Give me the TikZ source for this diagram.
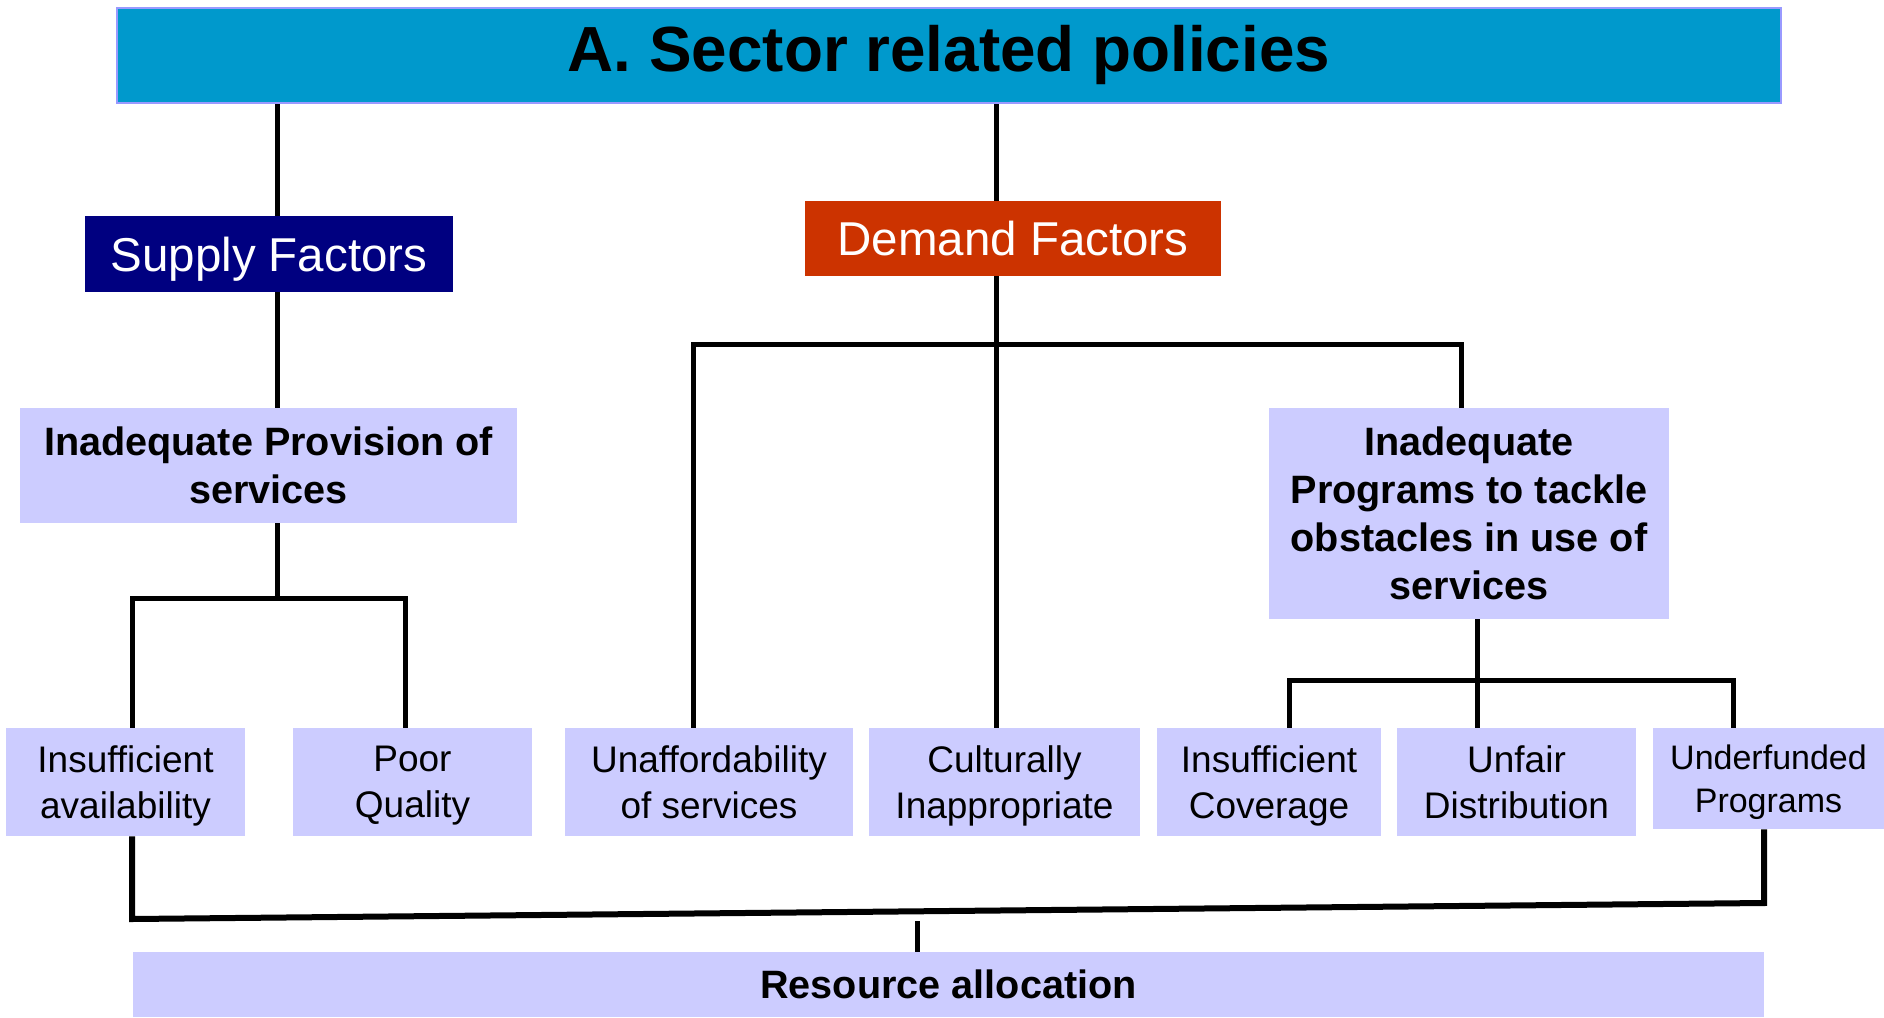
\documentclass[tikz,border=0pt]{standalone}
\usepackage{fontspec}
\setmainfont{Liberation Sans}
\definecolor{titleblue}{HTML}{0099CC}
\definecolor{titleedge}{HTML}{9999FF}
\definecolor{supplyblue}{HTML}{000080}
\definecolor{demandred}{HTML}{CC3300}
\definecolor{lilac}{HTML}{CCCCFF}
\begin{document}
\begin{tikzpicture}[x=0.5pt,y=-0.5pt,
    box/.style={fill=lilac, inner sep=0pt, align=center, text depth=0pt},
    head/.style={inner sep=0pt, text=white, text depth=0pt, font=\fontsize{23.75}{28}\selectfont},
    cause/.style={box, minimum height=54pt, font=\fontsize{18.5}{22.8}\selectfont},
    group/.style={box, font=\bfseries\fontsize{19.8}{24}\selectfont},
    link/.style={line width=2.5pt}]
    \useasboundingbox (0,0) rectangle (1884,1017);

    % Title
    \node[fill=titleblue, draw=titleedge, line width=1.2pt, inner sep=0pt,
        minimum width=832pt, minimum height=47.5pt,
        font=\bfseries\fontsize{31.9}{36}\selectfont] (title) at (949,55.5) {A. Sector related policies};

    % Factors
    \node[head, fill=supplyblue, minimum width=184pt, minimum height=38pt] (sup) at (269,254) {Supply Factors};
    \node[head, fill=demandred, minimum width=208pt, minimum height=37.5pt] (dem) at (1013,238.5) {Demand Factors};

    % Groups
    \node[group, minimum width=248.5pt, minimum height=57.5pt] (prov) at (268.5,465.5) {Inadequate Provision of\\services};
    \node[group, minimum width=200pt, minimum height=105.5pt] (prog) at (1469,513.5) {Inadequate\\Programs to tackle\\obstacles in use of\\services};

    % Causes
    \node[cause, minimum width=119.5pt] (ia) at (125.5,782) {Insufficient\\availability};
    \node[cause, minimum width=119.5pt] (pq) at (412.5,782) {Poor\\Quality};
    \node[cause, minimum width=144pt] (un) at (709,782) {Unaffordability\\of services};
    \node[cause, minimum width=135.5pt] (cu) at (1004.5,782) {Culturally\\Inappropriate};
    \node[cause, minimum width=112pt] (ic) at (1269,782) {Insufficient\\Coverage};
    \node[cause, minimum width=119.5pt] (ud) at (1516.5,782) {Unfair\\Distribution};
    \node[cause, minimum width=115.5pt, minimum height=50.5pt,
        font=\fontsize{17}{21.5}\selectfont] (uf) at (1768.5,778.5) {Underfunded\\Programs};

    % Resource allocation
    \node[group, minimum width=815.5pt, minimum height=32.5pt] (res) at (948.5,984.5) {Resource allocation};

    % Supply side
    \coordinate (supx) at (277.5,598);
    \draw[link] (title.south -| supx) -- (sup.north -| supx);
    \draw[link] (sup.south -| supx) -- (prov.north -| supx);
    \draw[link] (prov.south -| supx) -- (supx);
    \draw[link] ([xshift=3.25pt]ia.north) |- (supx) -| ([xshift=-3.75pt]pq.north);

    % Demand side
    \coordinate (demx) at (996,344);
    \draw[link] (title.south -| demx) -- (dem.north -| demx);
    \draw[link] (dem.south -| demx) -- (cu.north -| demx);
    \draw[link] ([xshift=-8pt]un.north) |- (demx) -| ([xshift=-4pt]prog.north);

    \coordinate (progx) at (1477,680);
    \draw[link] (prog.south -| progx) -- (progx) -- (ud.north -| progx);
    \draw[link] ([xshift=10pt]ic.north) |- (progx) -| ([xshift=-17.75pt]uf.north);

    % Bottom bar
    \coordinate (allocl) at (132,919);
    \coordinate (allocr) at (1764,903);
    \coordinate (allocm) at (917,921);
    \draw[link, line width=3pt] (ia.south -| allocl) -- (allocl) -- (allocr) -- (uf.south -| allocr);
    \draw[link] (allocm) -- (res.north -| allocm);
\end{tikzpicture}
\end{document}
